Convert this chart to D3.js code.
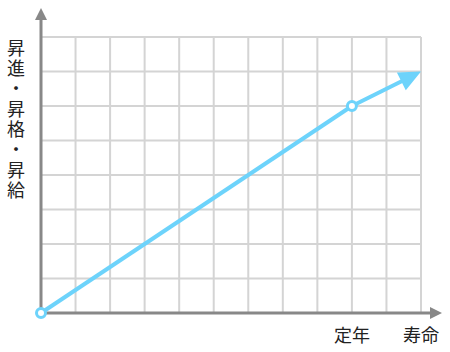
<!DOCTYPE html>
<html>
<head>
<meta charset="utf-8">
<script src="https://cdn.jsdelivr.net/npm/d3@7"></script>
<style>
  body { margin: 0; background: #fff; }
  text { font-family: "Noto Sans CJK JP", sans-serif; fill: #222; }
</style>
</head>
<body>
<div class="chart"></div>
<script>
// data
const xCols = 11;
const yRows = 8;
const careerPoints = [[0, 0], [9, 6]];
const arrowEnd = [11, 7];
const markerPoints = [[0, 0], [9, 6]];
const xLabels = [{ v: 9, label: "定年" }, { v: 11, label: "寿命" }];
const yLabel = "昇進・昇格・昇給";

const width = 450, height = 352;
const margin = { top: 37, left: 41, right: 29, bottom: 39 };
const innerW = 380, innerH = 276;

const svg = d3.select(".chart").append("svg")
  .attr("width", width).attr("height", height);

svg.append("defs").append("marker")
  .attr("id", "axisHead")
  .attr("viewBox", "0 0 10 10")
  .attr("refX", 0).attr("refY", 5)
  .attr("markerUnits", "userSpaceOnUse")
  .attr("markerWidth", 13).attr("markerHeight", 12)
  .attr("orient", "auto")
  .append("path").attr("d", "M0,0L10,5L0,10Z").attr("fill", "#888");

const g = svg.append("g")
  .attr("transform", "translate(" + margin.left + "," + margin.top + ")");

const x = d3.scaleLinear().domain([0, xCols]).range([0, innerW]);
const y = d3.scaleLinear().domain([0, yRows]).range([innerH, 0]);

// grid
g.append("g").selectAll("line")
  .data(d3.range(1, xCols + 1))
  .enter().append("line")
  .attr("x1", d => x(d)).attr("x2", d => x(d))
  .attr("y1", 0).attr("y2", innerH)
  .attr("stroke", "#d4d4d4").attr("stroke-width", 2);
g.append("g").selectAll("line")
  .data(d3.range(1, yRows + 1))
  .enter().append("line")
  .attr("x1", 0).attr("x2", innerW)
  .attr("y1", d => y(d)).attr("y2", d => y(d))
  .attr("stroke", "#d4d4d4").attr("stroke-width", 2);

// axes with arrow heads
g.append("line")
  .attr("x1", 0).attr("y1", innerH)
  .attr("x2", 0).attr("y2", -17)
  .attr("stroke", "#888").attr("stroke-width", 3)
  .attr("marker-end", "url(#axisHead)");
g.append("line")
  .attr("x1", 0).attr("y1", innerH)
  .attr("x2", innerW + 9).attr("y2", innerH)
  .attr("stroke", "#888").attr("stroke-width", 3)
  .attr("marker-end", "url(#axisHead)");

// career line
const blue = "#6dd3fb";
const line = d3.line().x(d => x(d[0])).y(d => y(d[1]));
g.append("path")
  .datum(careerPoints)
  .attr("d", line)
  .attr("fill", "none")
  .attr("stroke", blue).attr("stroke-width", 4);

// last stretch with a big arrow head
const p0 = careerPoints[careerPoints.length - 1];
const sx = x(p0[0]), sy = y(p0[1]);
const tx = x(arrowEnd[0]), ty = y(arrowEnd[1]);
const ang = Math.atan2(ty - sy, tx - sx);
const headLen = 22, headHalf = 10;
const ux = Math.cos(ang), uy = Math.sin(ang);
const bx = tx - ux * headLen, by = ty - uy * headLen;
g.append("line")
  .attr("x1", sx).attr("y1", sy)
  .attr("x2", bx + ux * 2).attr("y2", by + uy * 2)
  .attr("stroke", blue).attr("stroke-width", 4);
g.append("path")
  .attr("d", "M" + tx + "," + ty +
    "L" + (bx - uy * headHalf) + "," + (by + ux * headHalf) +
    "L" + (bx + uy * headHalf) + "," + (by - ux * headHalf) + "Z")
  .attr("fill", blue);

g.selectAll("circle")
  .data(markerPoints)
  .enter().append("circle")
  .attr("cx", d => x(d[0])).attr("cy", d => y(d[1]))
  .attr("r", 4.5)
  .attr("fill", "#fff")
  .attr("stroke", blue).attr("stroke-width", 3);

// x labels
g.selectAll(".xlab")
  .data(xLabels)
  .enter().append("text")
  .attr("class", "xlab")
  .attr("x", d => x(d.v)).attr("y", innerH + 29)
  .attr("text-anchor", "middle")
  .style("font-size", "18px")
  .text(d => d.label);

// y label (vertical)
svg.append("text")
  .attr("x", 16).attr("y", 39)
  .style("writing-mode", "vertical-rl")
  .style("font-size", "18px")
  .style("letter-spacing", "2.3px")
  .text(yLabel);
</script>
</body>
</html>
